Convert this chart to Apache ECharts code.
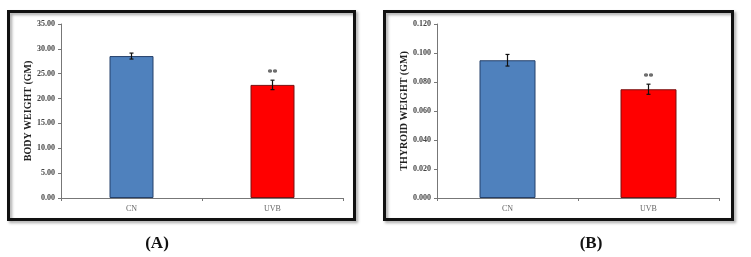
<!DOCTYPE html>
<html><head><meta charset="utf-8">
<script src="https://cdn.jsdelivr.net/npm/echarts@6/dist/echarts.min.js"></script>
<style>html,body{margin:0;padding:0;background:#fff}#c{width:751px;height:257px}</style>
</head><body><div id="c"></div>
<script>
const categories = ['CN', 'UVB'];
const bodyMean = [28.55, 22.75];
const bodyErr = [0.6, 0.95];
const thyroidMean = [0.095, 0.075];
const thyroidErr = [0.004, 0.0035];
const significance = ['', '**'];
const bodyTicks = {min: 0, max: 35, interval: 5, digits: 2};
const thyroidTicks = {min: 0, max: 0.12, interval: 0.02, digits: 3};
const barColors = ['#4f81bd', '#ff0000'];
const barBorders = ['#25406a', '#7a1010'];

const serif = '"Liberation Serif", "DejaVu Serif", serif';
const chart = echarts.init(document.getElementById('c'));

function yAxis(idx, name, t) {
  return {
    gridIndex: idx, type: 'value', min: t.min, max: t.max, interval: t.interval,
    name: name, nameLocation: 'middle', nameGap: 28, nameRotate: 90,
    nameTextStyle: {fontFamily: serif, fontWeight: 'bold', fontSize: 10, color: '#222'},
    axisLine: {show: true, lineStyle: {color: '#777', width: 1}},
    axisTick: {show: true, length: 3, lineStyle: {color: '#777'}},
    splitLine: {show: false},
    axisLabel: {fontFamily: serif, fontWeight: 'bold', fontSize: 8, color: '#444', margin: 6,
      formatter: v => v.toFixed(t.digits)}
  };
}
function xAxis(idx) {
  return {
    gridIndex: idx, type: 'category', data: categories,
    axisLine: {show: true, lineStyle: {color: '#777', width: 1}},
    axisTick: {show: true, length: 3, lineStyle: {color: '#777'}},
    axisLabel: {fontFamily: serif, fontSize: 8, color: '#666', margin: 7}
  };
}
function barSeries(idx, vals, width) {
  return {
    type: 'bar', xAxisIndex: idx, yAxisIndex: idx, barWidth: width,
    data: vals.map((v, i) => ({value: v, itemStyle: {color: barColors[i], borderColor: barBorders[i], borderWidth: 1}})),
    silent: true
  };
}
function errSeries(idx, vals, errs) {
  return {
    type: 'custom', xAxisIndex: idx, yAxisIndex: idx, silent: true, z: 5,
    data: vals.map((v, i) => [i, v, errs[i]]),
    renderItem: function (params, api) {
      const x = api.value(0), m = api.value(1), e = api.value(2);
      const top = api.coord([x, m + e]);
      const bot = api.coord([x, m - e]);
      const cap = 2;
      const children = [
        {type: 'line', shape: {x1: top[0], y1: top[1], x2: bot[0], y2: bot[1]}, style: {stroke: '#111', lineWidth: 1.2}},
        {type: 'line', shape: {x1: top[0] - cap, y1: top[1], x2: top[0] + cap, y2: top[1]}, style: {stroke: '#111', lineWidth: 1.2}},
        {type: 'line', shape: {x1: bot[0] - cap, y1: bot[1], x2: bot[0] + cap, y2: bot[1]}, style: {stroke: '#111', lineWidth: 1.2}}
      ];
      const s = significance[params.dataIndex];
      if (s) {
        children.push({type: 'text', style: {text: s, x: top[0], y: top[1] - 2, align: 'center', verticalAlign: 'bottom',
          font: 'bold 10px ' + serif, fill: '#333'}});
      }
      return {type: 'group', children: children};
    }
  };
}

chart.setOption({
  animation: false,
  backgroundColor: '#fff',
  grid: [
    {left: 61, top: 24, width: 282, height: 174},
    {left: 437, top: 24, width: 282, height: 174}
  ],
  xAxis: [xAxis(0), xAxis(1)],
  yAxis: [yAxis(0, 'BODY WEIGHT (GM)', bodyTicks), yAxis(1, 'THYROID WEIGHT (GM)', thyroidTicks)],
  series: [
    barSeries(0, bodyMean, 44), errSeries(0, bodyMean, bodyErr),
    barSeries(1, thyroidMean, 56), errSeries(1, thyroidMean, thyroidErr)
  ],
  graphic: [
    {type: 'rect', shape: {x: 8.5, y: 11.5, width: 346, height: 208}, z: 100,
      style: {fill: 'none', stroke: '#111', lineWidth: 3, shadowBlur: 3, shadowOffsetX: 2, shadowOffsetY: 2, shadowColor: 'rgba(0,0,0,0.35)'}},
    {type: 'rect', shape: {x: 384.5, y: 11.5, width: 348, height: 208}, z: 100,
      style: {fill: 'none', stroke: '#111', lineWidth: 3, shadowBlur: 3, shadowOffsetX: 2, shadowOffsetY: 2, shadowColor: 'rgba(0,0,0,0.35)'}},
    {type: 'text', x: 157, y: 244, z: 100, style: {text: '(A)', align: 'center', verticalAlign: 'middle', font: 'bold 17px ' + serif, fill: '#111'}},
    {type: 'text', x: 591, y: 244, z: 100, style: {text: '(B)', align: 'center', verticalAlign: 'middle', font: 'bold 17px ' + serif, fill: '#111'}}
  ]
});
</script></body></html>
